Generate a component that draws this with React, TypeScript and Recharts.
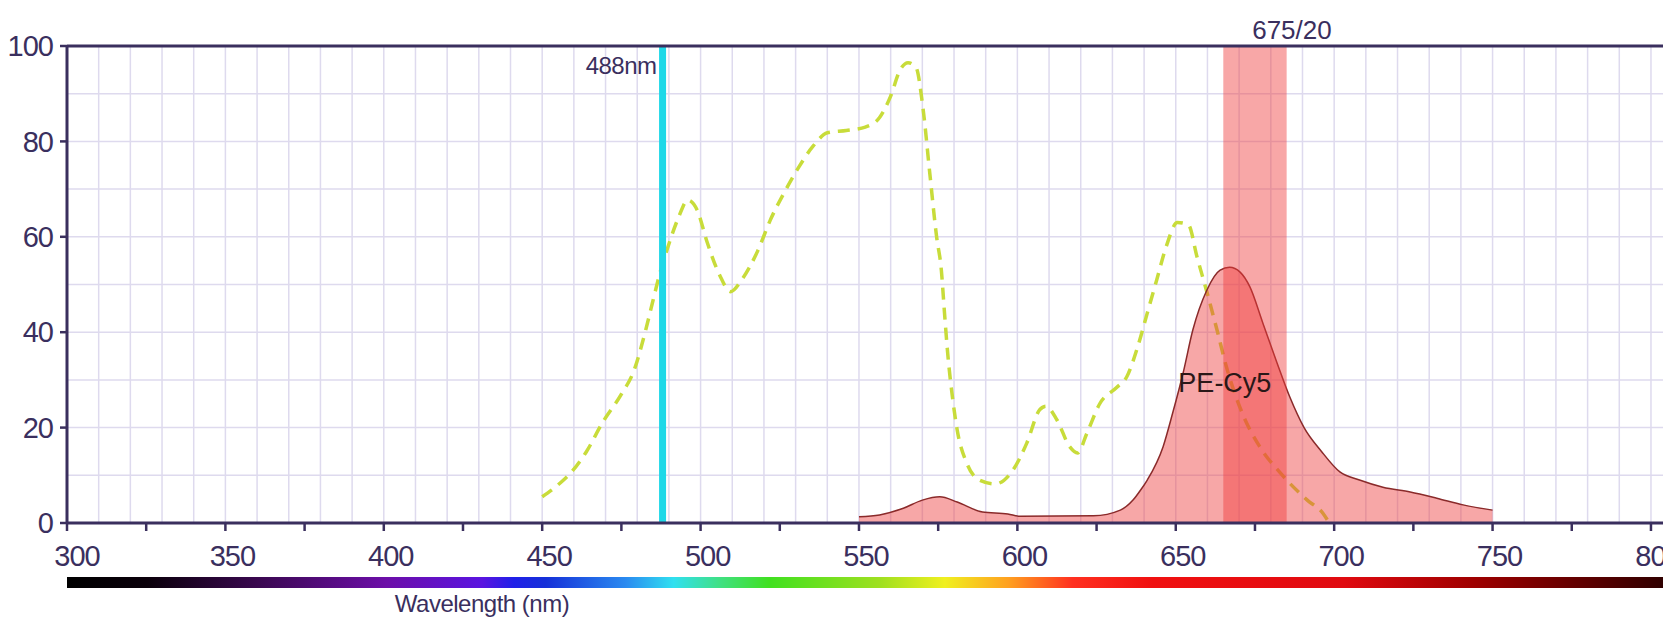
import {
  ComposedChart,
  Line,
  Area,
  XAxis,
  YAxis,
  CartesianGrid,
  ReferenceLine,
  ReferenceArea,
  ReferenceDot,
} from 'recharts'

// PE-Cy5 excitation (dashed) — wavelength / relative intensity
const exNm = [
  450, 455, 459, 464, 469, 475, 479, 482.5, 485, 487, 490, 493, 496, 499, 502, 506, 509.5,
  513, 518, 522, 527, 531, 535.5, 540, 546, 552, 556.5, 560, 563, 565.5, 568, 570.2, 572.4,
  574.5, 576, 577, 578, 579.5, 581, 584, 588, 593, 598.5, 603, 607, 609, 612.5, 616.5, 619,
  622, 626, 631.5, 634.5, 638, 641, 644, 647, 650.5, 654, 656.7, 660, 663, 666, 671, 676.5,
  683, 691.5, 696.5, 698,
]
const exVal = [
  5.5, 8, 10.5, 15, 21, 27, 32, 40, 46.7, 52, 58.5, 64, 67.7, 65.5, 59, 52, 48.5,
  51, 57, 63.5, 70, 74.6, 79, 81.8, 82.3, 83, 85, 89.5, 95, 96.5, 95.5, 87, 73,
  60, 53, 44, 35.6, 26.4, 19.5, 12.6, 9, 8.2, 11, 16.8, 23.7, 24.5, 21.6, 16, 14.7,
  18.9, 25, 28.5, 30.6, 37, 44, 51, 58, 63, 62.5, 55.8, 48, 40.5, 32.7, 23, 16,
  10.5, 4.8, 2, 0.5,
]

// PE-Cy5 emission (filled)
const emNm = [
  550, 556.5, 564, 570, 575.5, 581, 589, 597, 601, 624, 632.5, 636.5, 639, 641, 646, 649,
  652.3, 655.4, 659.8, 664, 667, 670.3, 673.4, 677.5, 682, 686, 690.5, 696, 701.8, 708,
  715.4, 724, 732.4, 740.7, 750,
]
const emVal = [
  1.3, 1.7, 3.1, 4.8, 5.5, 4.4, 2.3, 1.9, 1.4, 1.5, 2.7, 4.8, 7, 9, 16, 23,
  31.4, 40.5, 48.8, 53, 53.6, 52.6, 49.5, 41.9, 33.5, 26.4, 20, 15, 10.7, 9,
  7.5, 6.5, 5.2, 3.8, 2.7,
]

const xTicks = [300, 325, 350, 375, 400, 425, 450, 475, 500, 525, 550, 575, 600, 625, 650, 675, 700, 725, 750, 775, 800]
const yTicks = [0, 20, 40, 60, 80, 100]
const gridX = Array.from({ length: 51 }, (_, i) => 300 + i * 10)
const gridY = Array.from({ length: 11 }, (_, i) => i * 10)

const laserNm = 488
const filterCenter = 675
const filterWidth = 20

const excitation = exNm.map((nm, i) => ({ nm, v: exVal[i] }))
const emission = emNm.map((nm, i) => ({ nm, v: emVal[i] }))

const INK = '#3a2f5e'
const FONT = '"Liberation Sans", Arial, sans-serif'

function XTick(props: any) {
  const { x, y, payload } = props
  if (payload.value % 50 !== 0) return <g />
  const dx = payload.value === 300 ? 10 : 7
  return (
    <text x={x + dx} y={y} dy="0.72em" textAnchor="middle" fontSize={29} letterSpacing={-1} fill={INK}>
      {payload.value}
    </text>
  )
}

export default function App() {
  return (
    <div style={{ position: 'absolute', left: 0, top: 0, width: 1663, height: 620, background: '#fff', fontFamily: FONT }}>
      <ComposedChart
        width={1663}
        height={620}
        margin={{ top: 46, right: 0, left: 0, bottom: 37 }}
        style={{ fontFamily: FONT }}
      >
        <CartesianGrid
          stroke="#dedaee"
          strokeWidth={1.5}
          verticalValues={gridX}
          horizontalValues={gridY}
        />
        <XAxis
          type="number"
          dataKey="nm"
          domain={[300, 803.8]}
          allowDataOverflow
          ticks={xTicks}
          interval={0}
          height={60}
          stroke={INK}
          strokeWidth={3}
          tickSize={8}
          tickMargin={14}
          tickLine={{ stroke: INK, strokeWidth: 2.5 }}
          tick={<XTick />}
        />
        <YAxis
          type="number"
          domain={[0, 100]}
          ticks={yTicks}
          width={67}
          stroke={INK}
          strokeWidth={3}
          tickSize={7}
          tickMargin={7}
          tickLine={{ stroke: INK, strokeWidth: 2.5 }}
          tick={{ fontSize: 29, fill: INK, letterSpacing: -1 }}
        />
        <ReferenceLine y={100} stroke={INK} strokeWidth={3} />
        <Line
          data={excitation}
          dataKey="v"
          type="monotone"
          stroke="#c8dc3a"
          strokeWidth={3.5}
          strokeDasharray="12 8"
          dot={false}
          isAnimationActive={false}
          zIndex={100}
        />
        <Area
          data={emission}
          dataKey="v"
          type="monotone"
          stroke="#8a2a2a"
          strokeWidth={1.5}
          fill="#ee3c3c"
          fillOpacity={0.45}
          dot={false}
          isAnimationActive={false}
          zIndex={150}
        />
        <ReferenceArea
          x1={filterCenter - filterWidth / 2}
          x2={filterCenter + filterWidth / 2}
          y1={0}
          y2={100}
          fill="#f03c3c"
          fillOpacity={0.45}
          stroke="none"
          zIndex={200}
          label={{ value: '675/20', position: 'top', offset: 7, dx: 37, fontSize: 26, fill: INK }}
        />
        <ReferenceLine
          x={laserNm}
          stroke="#1fd8e8"
          strokeWidth={7}
          zIndex={300}
          label={{ value: '488nm', position: 'insideTopRight', offset: 6, dy: 5, fontSize: 24, fill: INK, letterSpacing: -0.5 }}
        />
        <ReferenceDot
          x={665.5}
          y={29.5}
          r={1}
          fill="none"
          stroke="none"
          zIndex={2000}
          label={{ value: 'PE-Cy5', position: 'center', fontSize: 27, fill: '#2a1818' }}
        />
      </ComposedChart>
      <div
        style={{
          position: 'absolute',
          left: 67,
          top: 577,
          width: 1596,
          height: 11,
          background:
            'linear-gradient(to right, #000 0%, #0a000a 5%, #3a0850 12%, #6c0ea8 20%, #5a14e0 26%, #2020e8 28%, #1530d8 30%, #2a8af0 35%, #30e0f0 38%, #40e080 41%, #40e020 44%, #a0e020 51%, #f0f020 55%, #ffa020 59%, #ff3020 63%, #f01010 68%, #e00a10 80%, #a00000 88%, #300000 100%)',
        }}
      />
      <div
        style={{
          position: 'absolute',
          left: 382,
          width: 200,
          top: 591,
          lineHeight: '26px',
          textAlign: 'center',
          fontSize: 24,
          letterSpacing: -0.5,
          color: INK,
          whiteSpace: 'nowrap',
        }}
      >
        Wavelength (nm)
      </div>
    </div>
  )
}
